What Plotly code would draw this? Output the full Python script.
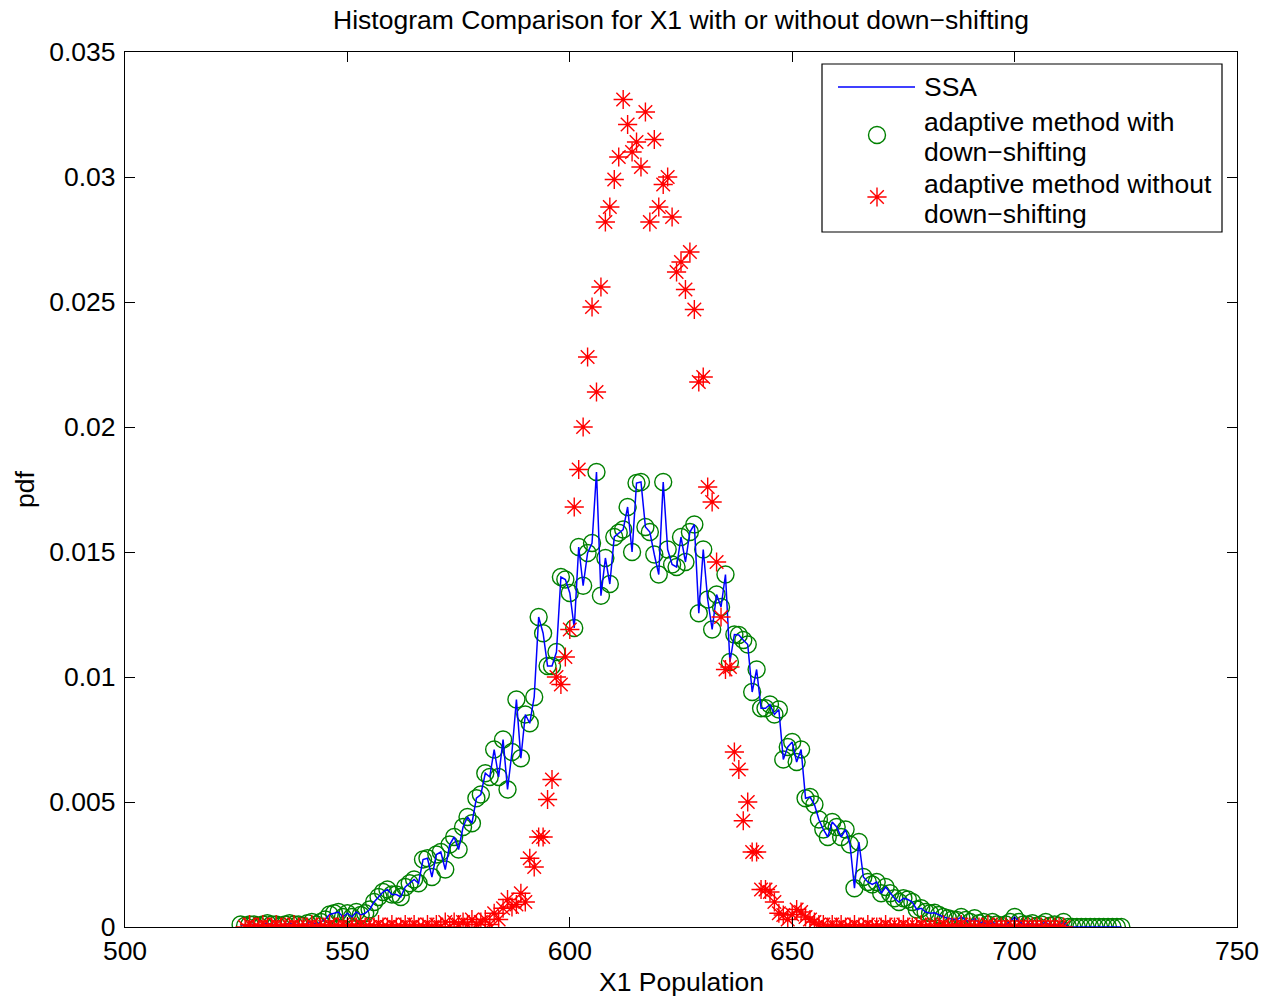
import plotly.graph_objects as go

# ---------------- data ----------------
x_with = list(range(526, 725))  # X1 population, adaptive method with down-shifting / SSA
pdf_with = [
    0.0001, 0.00005, 0.0001, 0.0001, 0.00005, 0.0001, 0.00015, 0.0001, 0.0001, 0.00005,   # 526-535
    0.0001, 0.00015, 0.0001, 0.0001, 0.00005, 0.00015, 0.0002, 0.0001, 0.0002, 0.0003,     # 536-545
    0.0005, 0.00055, 0.0006, 0.0004, 0.00055, 0.0004, 0.0006, 0.00048, 0.00055, 0.0007,    # 546-555
    0.0010, 0.0012, 0.0014, 0.0015, 0.0013, 0.0013, 0.0012, 0.0016, 0.00175, 0.0019,       # 556-565
    0.00175, 0.0027, 0.00275, 0.0020, 0.0029, 0.0030, 0.0023, 0.0033, 0.0036, 0.0031,      # 566-575
    0.0040, 0.0044, 0.00415, 0.00515, 0.0053, 0.00615, 0.0060, 0.0071, 0.0060, 0.0075,     # 576-585
    0.0055, 0.0070, 0.0091, 0.00675, 0.0085, 0.00815, 0.0092, 0.0124, 0.01175, 0.01044,    # 586-595
    0.01044, 0.0110, 0.0140, 0.0139, 0.01336, 0.01196, 0.0152, 0.01365, 0.01496, 0.01536,  # 596-605
    0.0182, 0.01325, 0.01476, 0.01372, 0.0156, 0.01577, 0.0159, 0.0168, 0.0150, 0.01776,   # 606-615
    0.0178, 0.0160, 0.0158, 0.0149, 0.0141, 0.0178, 0.0151, 0.0145, 0.0144, 0.0156,        # 616-625
    0.0146, 0.0158, 0.0161, 0.01255, 0.0151, 0.0131, 0.0119, 0.0133, 0.0128, 0.0141,       # 626-635
    0.0106, 0.0117, 0.01168, 0.01148, 0.0113, 0.0094, 0.0103, 0.00875, 0.00875, 0.0089,    # 636-645
    0.0085, 0.0087, 0.0067, 0.0072, 0.0074, 0.0066, 0.0071, 0.00515, 0.0052, 0.0049,       # 646-655
    0.0043, 0.0039, 0.0036, 0.0042, 0.0040, 0.0036, 0.0039, 0.0033, 0.00155, 0.0034,       # 656-665
    0.0020, 0.0018, 0.0017, 0.0018, 0.00135, 0.0016, 0.00135, 0.00115, 0.0010, 0.00115,    # 666-675
    0.0011, 0.0010, 0.0007, 0.00075, 0.0006, 0.00055, 0.00057, 0.00048, 0.0004, 0.00035,   # 676-685
    0.0003, 0.00028, 0.0004, 0.00028, 0.0002, 0.00035, 0.00015, 0.0002, 0.0001, 0.0002,    # 686-695
    0.0001, 0.00005, 0.0001, 0.0002, 0.0004, 0.0002, 0.0001, 0.0001, 0.00015, 0.00005,     # 696-705
    0.0001, 0.0002, 0.00005, 0.0001, 0.00005, 0.0002, 0.0, 0.0, 0.0, 0.0,                  # 706-715
    0.0, 0.0, 0.0, 0.0, 0.0, 0.0, 0.0, 0.0, 0.0,                                           # 716-724
]
# SSA histogram (read as coinciding with the circle markers)
x_ssa = list(range(526, 725))
pdf_ssa = list(pdf_with)

x_without = list(range(527, 712))  # adaptive method without down-shifting
pdf_without = [
    0.0, 0.0001, 0.0, 0.0, 0.0001, 0.0, 0.0, 0.0001, 0.0, 0.0,                             # 527-536
    0.0, 0.0001, 0.0, 0.0, 0.0, 0.0001, 0.0, 0.0, 0.0, 0.0001,                             # 537-546
    0.0, 0.0, 0.0001, 0.0, 0.0, 0.0, 0.0001, 0.0, 0.0, 0.0,                                # 547-556
    0.0001, 0.0, 0.0, 0.0001, 0.0, 0.0, 0.0001, 0.0, 0.0001, 0.0,                          # 557-566
    0.0, 0.0001, 0.0, 0.0001, 0.0, 0.0002, 0.0, 0.0002, 0.0001, 0.0002,                    # 567-576
    0.0001, 0.0003, 0.0001, 0.0002, 0.0003, 0.0001, 0.00055, 0.0003, 0.00075, 0.0011,      # 577-586
    0.0008, 0.0009, 0.00135, 0.0010, 0.00275, 0.0024, 0.0036, 0.0036, 0.0051, 0.0059,      # 587-596
    0.0100, 0.0097, 0.0108, 0.0119, 0.0168, 0.0183, 0.0200, 0.0228, 0.0248, 0.0214,        # 597-606
    0.0256, 0.0282, 0.0288, 0.0299, 0.0308, 0.0331, 0.0321, 0.0310, 0.0314, 0.0304,        # 607-616
    0.0326, 0.0282, 0.0315, 0.0288, 0.0297, 0.0300, 0.0284, 0.0262, 0.0266, 0.0255,        # 617-626
    0.0270, 0.0247, 0.0218, 0.0220, 0.0176, 0.0170, 0.0146, 0.0124, 0.0103, 0.0104,        # 627-636
    0.0070, 0.0063, 0.00425, 0.0050, 0.0030, 0.0030, 0.0015, 0.0015, 0.0014, 0.0010,       # 637-646
    0.00055, 0.00048, 0.0003, 0.0005, 0.0007, 0.0006, 0.0004, 0.0003, 0.0002, 0.0001,      # 647-656
    0.0001, 0.0, 0.0001, 0.0, 0.0001, 0.0, 0.0, 0.0001, 0.0, 0.0,                          # 657-666
    0.0001, 0.0, 0.0, 0.0, 0.0001, 0.0, 0.0, 0.0, 0.0001, 0.0,                             # 667-676
    0.0, 0.0, 0.0001, 0.0, 0.0, 0.0, 0.0, 0.0001, 0.0, 0.0,                                # 677-686
    0.0, 0.0001, 0.0, 0.0, 0.0, 0.0, 0.0, 0.0001, 0.0, 0.0,                                # 687-696
    0.0, 0.0, 0.0, 0.0, 0.0, 0.0, 0.0, 0.0, 0.0, 0.0,                                      # 697-706
    0.0, 0.0, 0.0, 0.0, 0.0,                                                               # 707-711
]

x_ticks = [500, 550, 600, 650, 700, 750]
y_ticks = [0, 0.005, 0.01, 0.015, 0.02, 0.025, 0.03, 0.035]
y_tick_text = ["0", "0.005", "0.01", "0.015", "0.02", "0.025", "0.03", "0.035"]

legend_labels = ["SSA", "adaptive method with", "down\u2212shifting",
                 "adaptive method without", "down\u2212shifting"]

# ---------------- figure ----------------
FONT = "Liberation Sans, Arial, Helvetica, sans-serif"
FS = 26.5
GREEN = "#008000"

fig = go.Figure()
fig.add_trace(go.Scatter(
    x=x_with, y=pdf_with, mode="markers", name="adaptive method with down-shifting",
    marker=dict(symbol="circle-open", size=17, color=GREEN, line=dict(width=1.4, color=GREEN)),
    showlegend=False))
fig.add_trace(go.Scatter(
    x=x_ssa, y=pdf_ssa, mode="lines", name="SSA",
    line=dict(color="#0000FF", width=1.5), showlegend=False))
fig.add_trace(go.Scatter(
    x=x_without, y=pdf_without, mode="markers", name="adaptive method without down-shifting",
    marker=dict(symbol="asterisk-open", size=16, color="#FF0000", line=dict(width=1.4, color="#FF0000")),
    showlegend=False))

# manual legend (positions in paper coordinates of the plot area)
def px_x(p):
    return (p - 125) / 1112.0

def px_y(p):
    return (927 - p) / 875.0

fig.add_trace(go.Scatter(
    x=[px_x(838), px_x(915)], y=[px_y(87), px_y(87)], mode="lines",
    line=dict(color="#0000FF", width=1.5), xaxis="x2", yaxis="y2",
    showlegend=False, hoverinfo="skip"))
fig.add_trace(go.Scatter(
    x=[px_x(877)], y=[px_y(135)], mode="markers",
    marker=dict(symbol="circle-open", size=17, color=GREEN, line=dict(width=1.4, color=GREEN)),
    xaxis="x2", yaxis="y2", showlegend=False, hoverinfo="skip"))
fig.add_trace(go.Scatter(
    x=[px_x(877)], y=[px_y(197)], mode="markers",
    marker=dict(symbol="asterisk-open", size=16, color="#FF0000", line=dict(width=1.4, color="#FF0000")),
    xaxis="x2", yaxis="y2", showlegend=False, hoverinfo="skip"))

shapes = [dict(type="rect", xref="paper", yref="paper",
               x0=px_x(822), x1=px_x(1222), y0=px_y(232), y1=px_y(64),
               line=dict(color="black", width=1.2), fillcolor="rgba(0,0,0,0)", layer="above")]

annotations = []
for lbl, py in zip(legend_labels, [87, 122, 152, 184, 214]):
    annotations.append(dict(text=lbl, xref="paper", yref="paper", x=px_x(922), y=px_y(py),
                            xanchor="left", yanchor="middle", showarrow=False,
                            font=dict(family=FONT, size=FS, color="black")))
annotations.append(dict(text="X1 Population", xref="paper", yref="paper", x=0.5, y=px_y(982),
                        xanchor="center", yanchor="middle", showarrow=False,
                        font=dict(family=FONT, size=FS, color="black")))
annotations.append(dict(text="pdf", xref="paper", yref="paper", x=px_x(25), y=px_y(490),
                        xanchor="center", yanchor="middle", showarrow=False, textangle=-90,
                        font=dict(family=FONT, size=FS, color="black")))

fig.update_layout(
    width=1277, height=1002,
    margin=dict(l=125, r=40, t=52, b=75),
    paper_bgcolor="white", plot_bgcolor="white",
    font=dict(family=FONT, size=FS, color="black"),
    title=dict(text="Histogram Comparison for X1 with or without down\u2212shifting",
               x=0.5, xref="paper", xanchor="center",
               y=1 - 20 / 1002, yref="container", yanchor="middle",
               font=dict(family=FONT, size=FS, color="black")),
    xaxis=dict(range=[500, 750], tickvals=x_ticks, ticktext=[str(v) for v in x_ticks],
               showgrid=False, zeroline=False, showline=True, linecolor="black", linewidth=1.2,
               mirror="allticks", ticks="inside", ticklen=10, tickcolor="black", tickwidth=1,
               tickfont=dict(family=FONT, size=FS, color="black")),
    yaxis=dict(range=[0, 0.035], tickvals=y_ticks, ticktext=y_tick_text,
               showgrid=False, zeroline=False, showline=True, linecolor="black", linewidth=1.2,
               mirror="allticks", ticks="inside", ticklen=10, tickcolor="black", tickwidth=1,
               ticklabelstandoff=3,
               tickfont=dict(family=FONT, size=FS, color="black")),
    xaxis2=dict(range=[0, 1], overlaying="x", visible=False, fixedrange=True),
    yaxis2=dict(range=[0, 1], overlaying="y", visible=False, fixedrange=True),
    shapes=shapes,
    annotations=annotations,
)

fig.write_html("out.html")
